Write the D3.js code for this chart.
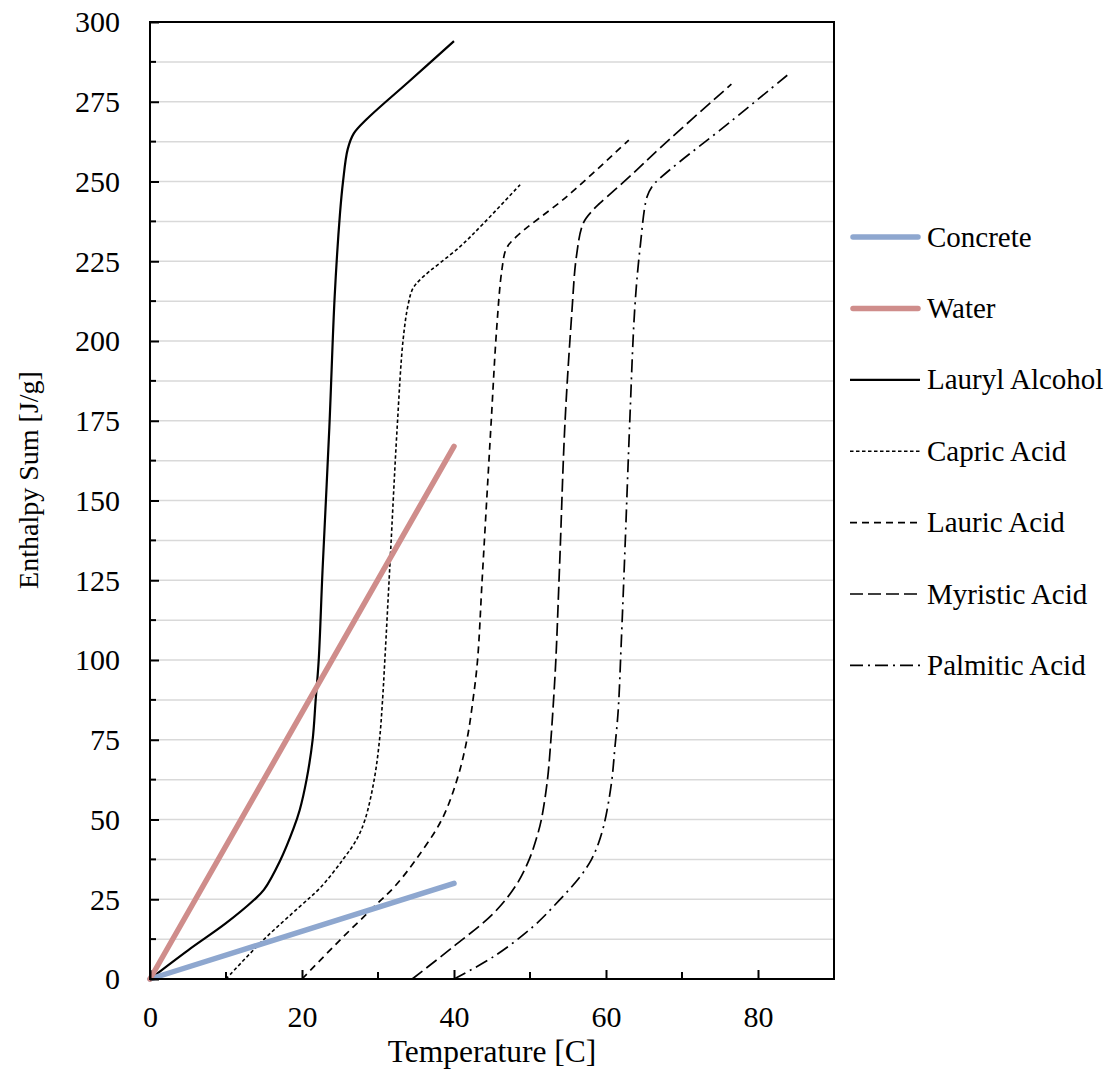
<!DOCTYPE html>
<html>
<head>
<meta charset="utf-8">
<script src="https://cdn.jsdelivr.net/npm/d3@7"></script>
<style>
  body { margin: 0; background: #fff; }
  svg { display: block; }
  svg text { font-family: "Liberation Serif", "Times New Roman", Times, "DejaVu Serif", serif; fill: #000; }
</style>
</head>
<body>
<svg id="chart" width="1113" height="1069"></svg>
<script>
// ---- data ----
const seriesNames = ["Concrete", "Water", "Lauryl Alcohol", "Capric Acid", "Lauric Acid", "Myristic Acid", "Palmitic Acid"];

const concreteT = [0, 40];
const concreteH = [0, 30];

const waterT = [0, 40];
const waterH = [0, 167];

const laurylT = [0, 5, 10, 13.6, 15, 17.1, 18.9, 19.7, 20.6, 21.4, 21.8, 22.2, 22.7, 23.6, 24.3, 25.0, 25.4, 26.0, 26.8, 28.5, 34, 40];
const laurylH = [0, 9, 17.5, 24.6, 28, 37, 47.3, 53, 62.5, 75, 87.5, 100, 128, 173, 214, 240, 250, 260, 265, 269.5, 281.2, 294];

const capricT = [10, 14.9, 19.7, 22.4, 25.4, 27.2, 28.3, 29.5, 30.2, 30.6, 30.9, 31.6, 32.5, 33.3, 34, 34.6, 35.7, 40.8, 43.9, 48.7];
const capricH = [0, 12.2, 22.7, 28.6, 37.5, 43.8, 50, 62.5, 75, 87.5, 100, 131.3, 172, 200.3, 211.8, 216.5, 219.6, 229.6, 236.9, 249];

const lauricT = [20, 25, 29.8, 32.2, 35.0, 38.4, 40.4, 41.7, 42.5, 43.1, 43.7, 44.3, 44.9, 45.6, 46.3, 46.9, 48.2, 54.8, 63];
const lauricH = [0, 12.2, 23.4, 29.0, 37.5, 50, 62.5, 75, 87.5, 100, 125, 150, 175, 203.4, 222.3, 229, 232.7, 245.2, 263];

const myristicT = [34.5, 39.9, 45.2, 48.2, 49.9, 50.9, 51.5, 52.3, 52.75, 53.1, 53.4, 53.9, 54.6, 55.5, 56.1, 57, 58.3, 59.2, 63.6, 67.1, 76.5];
const myristicH = [0, 10.1, 20.6, 29.5, 37.5, 44.5, 50, 62.5, 75, 87.5, 100, 130, 174.2, 208.7, 226.4, 236.9, 241.1, 243.2, 252.6, 260.5, 280.5];

const palmiticT = [40, 45.2, 50.4, 53.9, 56.6, 58.1, 59.0, 59.7, 60.3, 60.8, 61.15, 61.6, 62.0, 62.5, 63.1, 63.8, 64.5, 65.4, 66.2, 67, 69.7, 75, 84];
const palmiticH = [0, 7, 16.4, 24.8, 32.1, 37.5, 42.5, 48, 55, 63, 72, 84, 105, 135, 173.1, 210.8, 229.6, 245.2, 248.9, 250.8, 256.2, 266.1, 283.6];

const xTickLabels = [0, 20, 40, 60, 80];
const yTickLabels = [0, 25, 50, 75, 100, 125, 150, 175, 200, 225, 250, 275, 300];

(function () {
const FONT = '"Liberation Serif", "Times New Roman", Times, "DejaVu Serif", serif';
// ---- styles ----
const styles = [
  { color: "#8EA7CF", width: 5.5, dash: null, cap: "round" },
  { color: "#CF8D8B", width: 5.5, dash: null, cap: "round" },
  { color: "#000", width: 2.2, dash: null, cap: "butt" },
  { color: "#000", width: 1.6, dash: "3.5,2.5", cap: "butt" },
  { color: "#000", width: 1.7, dash: "7,5", cap: "butt" },
  { color: "#000", width: 1.7, dash: "13,5", cap: "butt" },
  { color: "#000", width: 1.7, dash: "13,5,2,5", cap: "butt" }
];

const allT = [concreteT, waterT, laurylT, capricT, lauricT, myristicT, palmiticT];
const allH = [concreteH, waterH, laurylH, capricH, lauricH, myristicH, palmiticH];
const series = seriesNames.map((name, i) => ({
  name,
  pts: allT[i].map((t, j) => [t, allH[i][j]]),
  style: styles[i]
}));

// ---- layout ----
const svg = d3.select("#chart");
const pL = 150, pR = 834, pT = 22, pB = 979;

const x = d3.scaleLinear().domain([0, 90]).range([pL, pR]);
const y = d3.scaleLinear().domain([0, 300]).range([pB, pT]);

// gridlines every 12.5
const gridVals = d3.range(12.5, 300, 12.5);
svg.append("g").selectAll("line").data(gridVals).join("line")
  .attr("x1", pL).attr("x2", pR)
  .attr("y1", d => y(d)).attr("y2", d => y(d))
  .attr("stroke", "#d9d9d9").attr("stroke-width", 1.5);

// series
const line = d3.line().x(d => x(d[0])).y(d => y(d[1])).curve(d3.curveCatmullRom.alpha(0.5));
const gS = svg.append("g");
const drawOrder = [2, 3, 4, 5, 6, 0, 1];
drawOrder.forEach(i => {
  const s = series[i];
  gS.append("path")
    .attr("d", line(s.pts))
    .attr("fill", "none")
    .attr("stroke", s.style.color)
    .attr("stroke-width", s.style.width)
    .attr("stroke-linecap", s.style.cap)
    .attr("stroke-linejoin", "round")
    .attr("stroke-dasharray", s.style.dash);
});

// frame
svg.append("rect")
  .attr("x", pL).attr("y", pT)
  .attr("width", pR - pL).attr("height", pB - pT)
  .attr("fill", "none").attr("stroke", "#000").attr("stroke-width", 2);

// y axis (ticks inward)
const yAxis = d3.axisLeft(y).tickValues(yTickLabels).tickSize(-9).tickFormat(d3.format("d"));
const gy = svg.append("g").attr("transform", `translate(${pL},0)`).call(yAxis);
gy.attr("font-family", FONT);
gy.select(".domain").remove();
gy.selectAll(".tick line").attr("stroke", "#000").attr("stroke-width", 2);
gy.selectAll(".tick text").attr("x", -30).attr("font-size", 30).attr("font-family", FONT).attr("dy", "0.33em");
const yMinor = d3.range(12.5, 300, 25);
svg.append("g").selectAll("line").data(yMinor).join("line")
  .attr("x1", pL).attr("x2", pL + 6)
  .attr("y1", d => y(d)).attr("y2", d => y(d))
  .attr("stroke", "#000").attr("stroke-width", 2);

// x axis (ticks inward)
const xAxis = d3.axisBottom(x).tickValues(xTickLabels).tickSize(-9).tickFormat(d3.format("d"));
const gx = svg.append("g").attr("transform", `translate(0,${pB})`).call(xAxis);
gx.attr("font-family", FONT);
gx.select(".domain").remove();
gx.selectAll(".tick line").attr("stroke", "#000").attr("stroke-width", 2);
gx.selectAll(".tick text").attr("y", 48).attr("dy", 0).attr("font-size", 30).attr("font-family", FONT);
const xMinor = d3.range(10, 90, 20);
svg.append("g").selectAll("line").data(xMinor).join("line")
  .attr("x1", d => x(d)).attr("x2", d => x(d))
  .attr("y1", pB).attr("y2", pB - 7)
  .attr("stroke", "#000").attr("stroke-width", 2);

// axis titles
svg.append("text")
  .attr("x", (pL + pR) / 2).attr("y", 1062)
  .attr("text-anchor", "middle").attr("font-size", 31.5).attr("font-family", FONT)
  .text("Temperature [C]");
svg.append("text")
  .attr("transform", `translate(38,480) rotate(-90)`)
  .attr("text-anchor", "middle").attr("font-size", 28).attr("font-family", FONT)
  .text("Enthalpy Sum [J/g]");

// legend
const legY0 = 237, legStep = 71.4;
const gL = svg.append("g");
series.forEach((s, i) => {
  const yy = legY0 + i * legStep;
  gL.append("line")
    .attr("x1", s.style.cap === "round" ? 853 : 850).attr("x2", s.style.cap === "round" ? 918 : 920)
    .attr("y1", yy).attr("y2", yy)
    .attr("stroke", s.style.color)
    .attr("stroke-width", s.style.width)
    .attr("stroke-linecap", s.style.cap)
    .attr("stroke-dasharray", s.style.dash);
  gL.append("text")
    .attr("x", 927).attr("y", yy).attr("dy", "0.33em")
    .attr("font-size", 29).attr("font-family", FONT)
    .text(s.name);
});
})();
</script>
</body>
</html>
